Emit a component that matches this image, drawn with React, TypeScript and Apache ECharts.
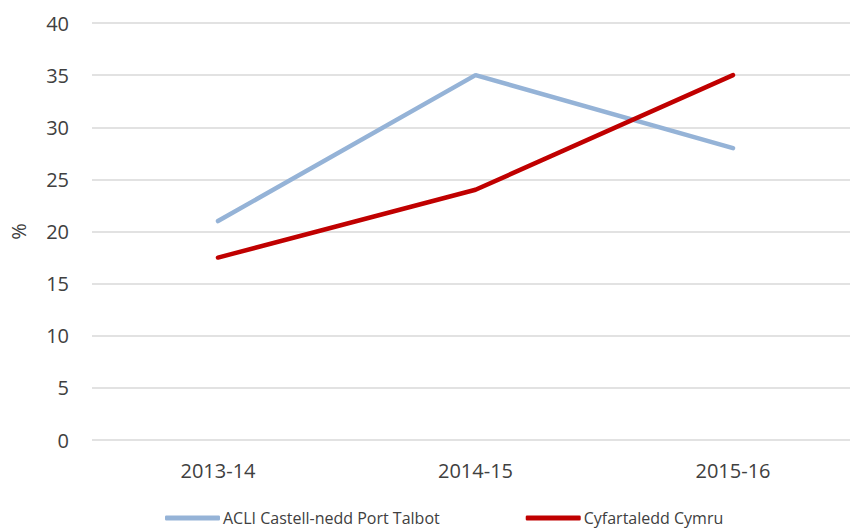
import React, { useEffect, useRef } from "react";
import * as echarts from "echarts";

const categories = ["2013-14", "2014-15", "2015-16"];
const seriesNames = ["ACLI Castell-nedd Port Talbot", "Cyfartaledd Cymru"];
const npt = [21, 35, 28];
const wales = [17.5, 24, 35];
const colors = ["#95B3D7", "#C00000"];

export default function App() {
  const ref = useRef<HTMLDivElement>(null);
  useEffect(() => {
    const chart = echarts.init(ref.current!, null, { renderer: "svg" });
    const font = "Open Sans, Liberation Sans, sans-serif";
    const yBase = { type: "value", min: 0, max: 40, interval: 5 };
    chart.setOption({
      animation: false,
      textStyle: { fontFamily: font },
      grid: [
        { left: 90, right: 0, top: 23, bottom: 89, containLabel: false },
        { left: 218, right: 117, top: 23, bottom: 89, containLabel: false },
      ],
      legend: {
        top: 508,
        left: 165,
        padding: 0,
        itemWidth: 55,
        itemHeight: 5,
        itemGap: 86,
        icon: "roundRect",
        textStyle: { fontSize: 16, lineHeight: 20, color: "#404040", fontFamily: font, padding: [0, 0, 0, -2] },
        data: seriesNames,
      },
      xAxis: [
        { type: "value", gridIndex: 0, min: 0, max: 1, show: false },
        {
          type: "category",
          gridIndex: 1,
          data: categories,
          boundaryGap: false,
          axisLine: { show: false },
          axisTick: { show: false },
          splitLine: { show: false },
          axisLabel: { fontSize: 20, color: "#404040", margin: 20 },
        },
      ],
      yAxis: [
        {
          ...yBase,
          gridIndex: 0,
          name: "%",
          nameLocation: "middle",
          nameRotate: 90,
          nameGap: 64,
          nameTextStyle: { fontSize: 20, color: "#404040" },
          axisLine: { show: false },
          axisTick: { show: false },
          splitLine: { lineStyle: { color: "#D9D9D9", width: 1.5 } },
          axisLabel: { fontSize: 20, color: "#404040", margin: 23 },
        },
        { ...yBase, gridIndex: 1, show: false, splitLine: { show: false } },
      ],
      series: [
        {
          name: seriesNames[0],
          type: "line",
          xAxisIndex: 1,
          yAxisIndex: 1,
          data: npt,
          symbol: "none",
          lineStyle: { color: colors[0], width: 4.5, cap: "round" },
          itemStyle: { color: colors[0] },
        },
        {
          name: seriesNames[1],
          type: "line",
          xAxisIndex: 1,
          yAxisIndex: 1,
          data: wales,
          symbol: "none",
          lineStyle: { color: colors[1], width: 4.5, cap: "round" },
          itemStyle: { color: colors[1] },
        },
      ],
    });
    return () => chart.dispose();
  }, []);
  return <div ref={ref} style={{ width: 850, height: 529, position: "absolute", left: 0, top: 0 }} />;
}
